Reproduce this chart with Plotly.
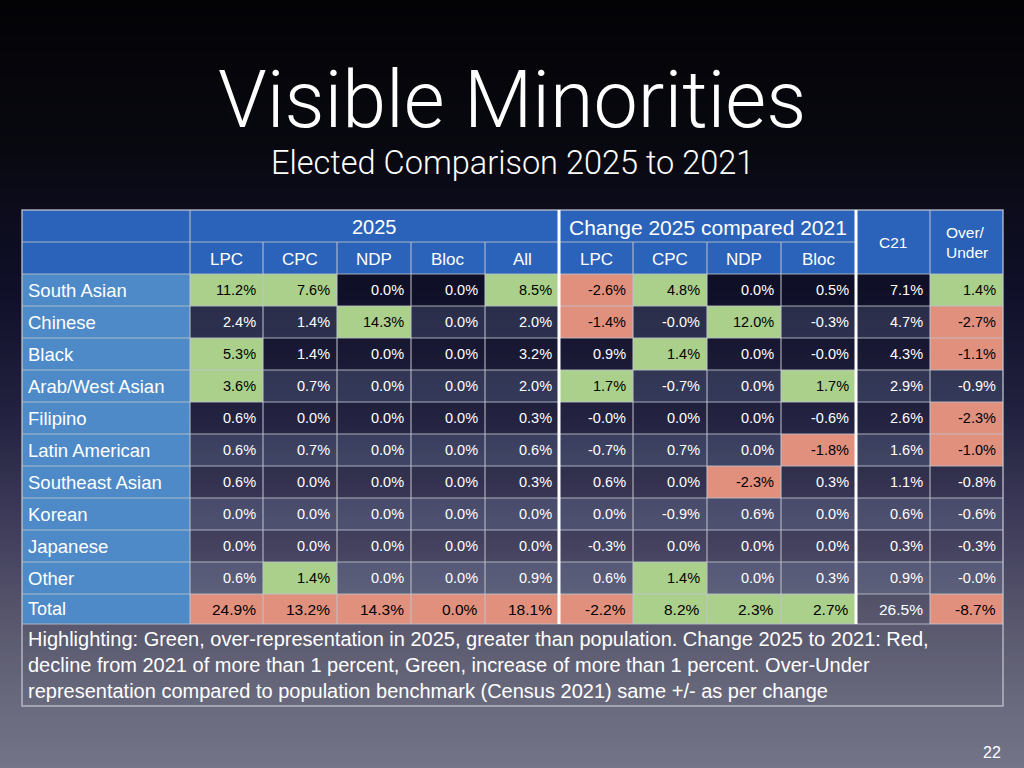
import plotly.graph_objects as go

# data
groups = ["South Asian", "Chinese", "Black", "Arab/West Asian", "Filipino",
          "Latin American", "Southeast Asian", "Korean", "Japanese", "Other", "Total"]
parties = ["LPC", "CPC", "NDP", "Bloc"]

lpc_2025 = [11.2, 2.4, 5.3, 3.6, 0.6, 0.6, 0.6, 0.0, 0.0, 0.6, 24.9]
cpc_2025 = [7.6, 1.4, 1.4, 0.7, 0.0, 0.7, 0.0, 0.0, 0.0, 1.4, 13.2]
ndp_2025 = [0.0, 14.3, 0.0, 0.0, 0.0, 0.0, 0.0, 0.0, 0.0, 0.0, 14.3]
bloc_2025 = [0.0, 0.0, 0.0, 0.0, 0.0, 0.0, 0.0, 0.0, 0.0, 0.0, 0.0]
all_2025 = [8.5, 2.0, 3.2, 2.0, 0.3, 0.6, 0.3, 0.0, 0.0, 0.9, 18.1]

lpc_chg = [-2.6, -1.4, 0.9, 1.7, -0.0, -0.7, 0.6, 0.0, -0.3, 0.6, -2.2]
cpc_chg = [4.8, -0.0, 1.4, -0.7, 0.0, 0.7, 0.0, -0.9, 0.0, 1.4, 8.2]
ndp_chg = [0.0, 12.0, 0.0, 0.0, 0.0, 0.0, -2.3, 0.6, 0.0, 0.0, 2.3]
bloc_chg = [0.5, -0.3, -0.0, 1.7, -0.6, -1.8, 0.3, 0.0, 0.0, 0.3, 2.7]

c21 = [7.1, 4.7, 4.3, 2.9, 2.6, 1.6, 1.1, 0.6, 0.3, 0.9, 26.5]
over_under = [1.4, -2.7, -1.1, -0.9, -2.3, -1.0, -0.8, -0.6, -0.3, -0.0, -8.7]

# highlighting per cell: g = green, r = red, . = none
hl_lpc_2025 = "g.gg......r"
hl_cpc_2025 = "g........gr"
hl_ndp_2025 = ".g........r"
hl_bloc_2025 = "..........r"
hl_all_2025 = "g.........r"
hl_lpc_chg = "rr.g......r"
hl_cpc_chg = "g.g......gg"
hl_ndp_chg = ".g....r...g"
hl_bloc_chg = "...g.r....g"
hl_c21 = "..........."
hl_over_under = "grr.rr....r"

notes = ("Highlighting: Green, over-representation in 2025, greater than population. Change 2025 to 2021: Red,<br>"
         "decline from 2021 of more than 1 percent, Green, increase of more than 1 percent. Over-Under<br>"
         "representation compared to population benchmark (Census 2021) same +/- as per change")

columns = [
    (lpc_2025, hl_lpc_2025), (cpc_2025, hl_cpc_2025), (ndp_2025, hl_ndp_2025),
    (bloc_2025, hl_bloc_2025), (all_2025, hl_all_2025),
    (lpc_chg, hl_lpc_chg), (cpc_chg, hl_cpc_chg), (ndp_chg, hl_ndp_chg),
    (bloc_chg, hl_bloc_chg), (c21, hl_c21), (over_under, hl_over_under),
]

# layout of the slide (pixels)
W, H = 1024, 768
x_edges = [22, 190, 263, 337, 411, 485, 559, 633, 707, 781, 856, 930, 1003]
head_top, head_mid, head_bot = 210, 242, 274
row_h = 32
total_h = 30
notes_bot = 706

HEAD_BLUE = "#2b63ba"
LABEL_BLUE = "#4e8ac8"
GREEN = "#aad08c"
RED = "#e2907e"
STRIPE = "rgba(140,160,200,0.20)"
GRID = "rgba(190,195,205,0.85)"
FONT = "Liberation Sans, Arial, sans-serif"
NARROW = "Liberation Sans Narrow, Arial Narrow, Liberation Sans, sans-serif"
TITLE_FONT = "Roboto, Liberation Sans, sans-serif"

bg_stops = [(0, (3, 3, 6)), (150, (8, 8, 16)), (210, (12, 12, 28)), (290, (15, 15, 40)),
            (418, (35, 35, 65)), (546, (68, 66, 95)), (608, (85, 84, 106)),
            (700, (105, 105, 125)), (768, (116, 116, 136))]


def bg_color(y):
    for (y0, c0), (y1, c1) in zip(bg_stops[:-1], bg_stops[1:]):
        if y0 <= y <= y1:
            t = (y - y0) / (y1 - y0)
            return "rgb(%d,%d,%d)" % tuple(round(a + (b - a) * t) for a, b in zip(c0, c1))
    return "rgb(%d,%d,%d)" % bg_stops[-1][1]


shapes = []
annotations = []


def rect(x0, y0, x1, y1, fill, line_color=None, line_width=0):
    shapes.append(dict(type="rect", xref="x", yref="y", x0=x0, y0=y0, x1=x1, y1=y1,
                       fillcolor=fill, line=dict(color=line_color or fill, width=line_width),
                       layer="below"))


def line(x0, y0, x1, y1, color=GRID, width=1.2):
    shapes.append(dict(type="line", xref="x", yref="y", x0=x0, y0=y0, x1=x1, y1=y1,
                       line=dict(color=color, width=width), layer="below"))


def text(x, y, s, size, color="white", xanchor="center", family=FONT, weight=None):
    f = dict(family=family, size=size, color=color)
    if weight:
        f["weight"] = weight
    annotations.append(dict(x=x, y=y, xref="x", yref="y", text=s, showarrow=False,
                            xanchor=xanchor, yanchor="middle", font=f, align="left"))


# background gradient
step = 4
for y in range(0, H, step):
    rect(0, y, W, y + step, bg_color(y + step / 2))

# row boundaries
row_tops = [head_bot + i * row_h for i in range(len(groups))]
row_bots = [t + row_h for t in row_tops]
row_bots[-1] = row_tops[-1] + total_h
table_bot = row_bots[-1]

# header cells
rect(x_edges[0], head_top, x_edges[-1], head_bot, HEAD_BLUE)

# label column
rect(x_edges[0], head_bot, x_edges[1], table_bot, LABEL_BLUE)

# data cells
for r in range(len(groups)):
    for c, (vals, hl) in enumerate(columns):
        x0, x1 = x_edges[c + 1], x_edges[c + 2]
        code = hl[r]
        if code == "g":
            rect(x0, row_tops[r], x1, row_bots[r], GREEN)
        elif code == "r":
            rect(x0, row_tops[r], x1, row_bots[r], RED)
        elif r % 2 == 1:
            rect(x0, row_tops[r], x1, row_bots[r], STRIPE)

# grid lines
line(x_edges[0], head_mid, x_edges[10], head_mid)
for y in row_tops:
    line(x_edges[0], y, x_edges[-1], y)
line(x_edges[0], table_bot, x_edges[-1], table_bot)
for i, x in enumerate(x_edges[1:-1], start=1):
    if i in (6, 10):
        continue
    top = head_mid if i in (2, 3, 4, 5, 7, 8, 9) else head_top
    line(x, top, x, table_bot)
# outer border including notes box
shapes.append(dict(type="rect", xref="x", yref="y", x0=x_edges[0], y0=head_top,
                   x1=x_edges[-1], y1=notes_bot, line=dict(color=GRID, width=1.5),
                   fillcolor="rgba(0,0,0,0)", layer="below"))
# white separators between column groups
for i in (6, 10):
    line(x_edges[i], head_top, x_edges[i], table_bot, color="white", width=3)

# header texts
text((x_edges[1] + x_edges[6]) / 2, (head_top + head_mid) / 2 + 1, "2025", 20)
text((x_edges[6] + x_edges[10]) / 2, (head_top + head_mid) / 2 + 1, "Change 2025 compared 2021", 21)
text((x_edges[10] + x_edges[11]) / 2, (head_top + head_bot) / 2, "C21", 15.5)
text((x_edges[11] + x_edges[12]) / 2, (head_top + head_bot) / 2, "Over/<br>Under", 15.5)
sub_heads = parties + ["All"] + parties
for i, s in enumerate(sub_heads):
    text((x_edges[i + 1] + x_edges[i + 2]) / 2, (head_mid + head_bot) / 2 + 1, s, 17)

# row labels and values (the Total row is set narrower, as on the slide)
last = len(groups) - 1
for r, g in enumerate(groups):
    yc = (row_tops[r] + row_bots[r]) / 2
    fam = NARROW if r == last else FONT
    text(x_edges[0] + 4, yc, g, 18.5 if r < last else 18, xanchor="left", family=fam)
    for c, (vals, hl) in enumerate(columns):
        col = "black" if hl[r] in "gr" else "white"
        text(x_edges[c + 2] - 5, yc, "%.1f%%" % vals[r], 14.5 if r < last else 15.5,
             color=col, xanchor="right", family=fam)

# notes
annotations.append(dict(x=x_edges[0] + 4, y=(table_bot + notes_bot) / 2, xref="x", yref="y",
                        text=notes, showarrow=False, xanchor="left", yanchor="middle",
                        align="left", font=dict(family=FONT, size=20, color="white")))

# titles and slide number
text(W / 2, 100, "Visible Minorities", 79, family=TITLE_FONT, weight=300)
text(W / 2, 163, "Elected Comparison 2025 to 2021", 32.5, family=TITLE_FONT, weight=300)
text(1003, 752, "22", 16, xanchor="right")

fig = go.Figure()
fig.add_trace(go.Scatter(x=[], y=[], hoverinfo="skip", showlegend=False))
fig.update_layout(
    width=W, height=H,
    margin=dict(l=0, r=0, t=0, b=0),
    paper_bgcolor="rgb(116,116,136)",
    plot_bgcolor="rgba(0,0,0,0)",
    xaxis=dict(range=[0, W], visible=False, fixedrange=True),
    yaxis=dict(range=[H, 0], visible=False, fixedrange=True),
    shapes=shapes,
    annotations=annotations,
    showlegend=False,
)

fig.write_html("out.html", config={"displayModeBar": False},
               post_script="document.body.style.margin='0';")
